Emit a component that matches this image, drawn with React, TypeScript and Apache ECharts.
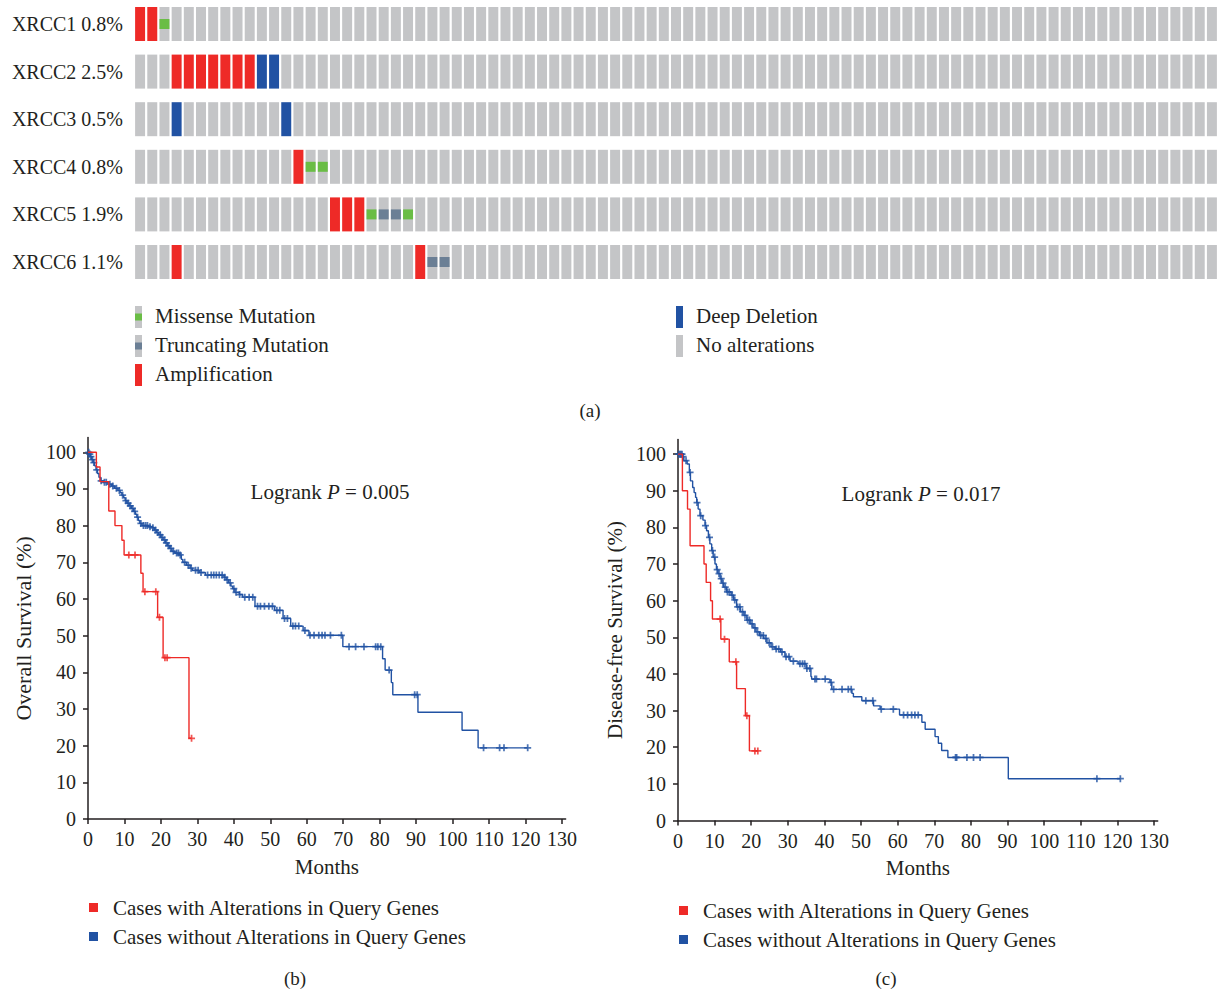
import React, { useEffect, useRef } from "react";
import * as echarts from "echarts";

// ---------- Oncoprint data ----------
const genes = ["XRCC1", "XRCC2", "XRCC3", "XRCC4", "XRCC5", "XRCC6"];
const genePct = ["0.8%", "2.5%", "0.5%", "0.8%", "1.9%", "1.1%"];
const sampleCount = 89;
const ampCols = [[0, 1], [3, 4, 5, 6, 7, 8, 9], [], [13], [16, 17, 18], [3, 23]];
const delCols = [[], [10, 11], [3, 12], [], [], []];
const missenseCols = [[2], [], [], [14, 15], [19, 22], []];
const truncCols = [[], [], [], [], [20, 21], [24, 25]];

// ---------- Kaplan-Meier data (month, survival % after event) ----------
const osAlt = [
  [0, 100], [2.3, 96], [3.3, 92], [5.7, 84], [7.4, 80], [9.3, 76], [9.9, 72],
  [14.5, 67], [15.1, 62], [19.1, 55], [20.6, 44], [27.7, 22], [28.4, 22],
];
const osAltCensor = [11.2, 12.9, 15.6, 18.6, 19.6, 21.1, 21.7, 28.4];
const osNoAlt = [
  [0, 100], [0.3, 99.5], [0.6, 98.8], [1, 98], [1.4, 97.2], [1.8, 96.3], [2.2, 95.2],
  [2.6, 94.2], [3, 93.2], [3.4, 92.2], [4.2, 91.8], [5.5, 91.3], [6.5, 90.8], [7.3, 90.2],
  [8.2, 89.6], [8.8, 89], [9.3, 88.3], [9.8, 87.6], [10.2, 86.8], [10.7, 86.1], [11.3, 85.4],
  [11.9, 84.7], [12.5, 83.9], [13, 83.1], [13.4, 82.3], [13.8, 81.4], [14.2, 80.6], [14.8, 80],
  [16.5, 79.7], [17.6, 79.4], [18.2, 78.8], [18.8, 78.1], [19.4, 77.5], [20, 76.8], [20.6, 76.1],
  [21.2, 75.3], [21.8, 74.5], [22.4, 73.8], [23, 73], [23.8, 72.5], [25, 72], [25.6, 70.8],
  [26, 70], [27, 69.2], [28, 68.4], [28.6, 67.8], [30.5, 67.2], [32.2, 66.5], [37.3, 65.9],
  [37.9, 65.2], [38.6, 64.4], [39.2, 63.5], [39.7, 62.8], [40.3, 61.8], [41.5, 61.2],
  [42.4, 60.5], [45.8, 58], [51.2, 56.9], [53.5, 54.7], [55.6, 52.6], [59, 51.4], [60.6, 50.1],
  [69.9, 47], [80.8, 43.7], [81.5, 40.6], [83.2, 37.2], [83.6, 33.9], [90.5, 29.1],
  [102.6, 24.2], [107, 19.4], [120.6, 19.4],
];
const osNoAltCensor = [
  0.2, 0.5, 0.8, 1.2, 1.6, 2.4, 3.6, 4.5, 5, 6, 6.8, 7.8, 8.6, 9.5, 10.4, 11, 11.6, 12.2,
  12.8, 13.6, 14.5, 15.2, 15.8, 16.3, 17, 17.8, 18.5, 19.1, 19.8, 20.3, 21, 21.5, 22.1, 22.7,
  23.4, 24.3, 24.8, 25.3, 26.5, 27.5, 28.3, 29.5, 30.2, 31, 32.8, 33.8, 34.5, 35.2, 36, 36.8,
  37.5, 38.2, 39, 40, 40.6, 41.6, 43, 44.2, 45.2, 46.5, 47.3, 48.4, 49.6, 50.6, 51.8, 52.6,
  53.9, 54.7, 56.2, 56.9, 57.8, 59.5, 60.9, 62, 63.3, 64.2, 65, 66.5, 69.5, 71.6, 73.4, 75.7,
  78.9, 79.5, 80.3, 82.6, 89.6, 90.3, 108.5, 112.9, 114.1, 120.6,
];

const dfsAlt = [
  [0, 100], [1.2, 90], [2.6, 85], [3.3, 75], [7.1, 70], [7.7, 65], [8.9, 60], [9.4, 55],
  [11.7, 49.5], [14, 43.3], [16, 36], [18.4, 28.6], [19.5, 19], [21.8, 19],
];
const dfsAltCensor = [11.5, 12.7, 15.8, 18.8, 21, 21.8];
const dfsNoAlt = [
  [0, 100], [1.3, 99.3], [1.6, 98.2], [2.5, 97.3], [3.1, 95], [3.4, 92.7], [4, 90.9],
  [4.4, 89.5], [4.8, 88.2], [5.1, 86.8], [5.5, 85], [6, 83.2], [6.8, 82], [7.4, 80.5],
  [7.8, 79.1], [8.3, 77.3], [8.7, 75.5], [9.2, 73.7], [9.6, 71.9], [10.1, 70], [10.5, 68.5],
  [10.9, 67.4], [11.5, 66], [12, 64.8], [12.5, 63.7], [13.3, 62.4], [14.5, 61.5], [15.2, 60.2],
  [16, 58.3], [17, 57], [18, 56], [18.8, 54.7], [19.7, 53.7], [20.5, 52.6], [21.3, 51.5],
  [22.2, 50.5], [23.4, 49.7], [24.3, 48.5], [25.4, 47.4], [26.5, 46.8], [28, 46], [29.2, 44.7],
  [30.6, 43.5], [32.8, 42.8], [35, 41.5], [36.3, 39.3], [36.5, 38.6], [41.5, 37.7], [42, 35.8],
  [47.5, 34.7], [47.9, 33.8], [50.2, 32.7], [53.4, 31.3], [55.2, 30.4], [60.5, 28.8],
  [66.6, 26.8], [67.5, 24.9], [70.2, 22.9], [71.1, 21.1], [72, 19.1], [73.7, 17.2],
  [90.2, 11.4], [120.8, 11.4],
];
const dfsNoAltCensor = [
  0.2, 0.5, 0.8, 1.1, 1.4, 2.2, 3.3, 5.2, 6.2, 7.5, 8.6, 9.4, 10, 10.7, 11.2, 11.8, 12.3,
  12.9, 13.5, 14, 14.8, 15.5, 16.3, 16.9, 17.6, 18.3, 19, 19.5, 20.2, 21, 21.7, 22.6, 23.3, 24,
  24.9, 25.8, 26.8, 27.5, 28.4, 29.5, 30.3, 31.5, 33.3, 34, 34.6, 35.2, 36, 37.4, 37.8, 40.2,
  41.8, 42.5, 44.8, 46.5, 47.3, 51.3, 53.2, 55.5, 58.8, 61.6, 62.7, 63.8, 64.7, 65.6, 75.8,
  76.1, 78.9, 80.7, 82.5, 114.4, 120.8,
];

const monthTicks = [0, 10, 20, 30, 40, 50, 60, 70, 80, 90, 100, 110, 120, 130];
const survTicks = [0, 10, 20, 30, 40, 50, 60, 70, 80, 90, 100];
const altName = "Cases with Alterations in Query Genes";
const noAltName = "Cases without Alterations in Query Genes";

// ---------- styles ----------
const FONT = "'Liberation Serif', 'Times New Roman', serif";
const TXT = "#231f20";
const RED = "#ee2a27";
const BLUE = "#2152a3";
const GREEN = "#6abd45";
const SLATE = "#6b7f95";
const GRAY = "#c4c5c7";
const PLUS = "path://M3,0H5V3H8V5H5V8H3V5H0V3H3Z";

function valueAt(curve: number[][], t: number) {
  let v = curve[0][1];
  for (const [x, y] of curve) {
    if (x <= t) v = y;
    else break;
  }
  return v;
}

function buildCells() {
  const cells: number[][] = [];
  genes.forEach((_, r) => {
    for (let c = 0; c < sampleCount; c++) {
      let code = 0;
      if (missenseCols[r].includes(c)) code = 1;
      if (truncCols[r].includes(c)) code = 2;
      if (ampCols[r].includes(c)) code = 3;
      if (delCols[r].includes(c)) code = 4;
      cells.push([c, r, code]);
    }
  });
  return cells;
}

function kmAxes(grid: number, yName: string, yGap: number, yNameSize: number) {
  const lineStyle = { color: TXT, width: 1.5 };
  const label = { color: TXT, fontSize: 20, fontFamily: FONT };
  return {
    x: {
      gridIndex: grid,
      type: "value",
      min: 0,
      max: 131,
      axisLine: { show: true, onZero: false, lineStyle },
      axisTick: { show: true, length: 5, customValues: monthTicks, lineStyle },
      axisLabel: { ...label, margin: 10, customValues: monthTicks },
      splitLine: { show: false },
      name: "Months",
      nameLocation: "middle",
      nameGap: 37,
      nameTextStyle: { color: TXT, fontSize: 21, fontFamily: FONT },
    },
    y: {
      gridIndex: grid,
      type: "value",
      min: 0,
      max: 104,
      axisLine: { show: true, onZero: false, lineStyle },
      axisTick: { show: true, length: 5, customValues: survTicks, lineStyle },
      axisLabel: { ...label, margin: 12, customValues: survTicks },
      splitLine: { show: false },
      name: yName,
      nameLocation: "middle",
      nameRotate: 90,
      nameGap: yGap,
      nameTextStyle: { color: TXT, fontSize: yNameSize, fontFamily: FONT },
    },
  };
}

function kmSeries(axis: number, alt: number[][], altC: number[], noAlt: number[][], noAltC: number[]) {
  const common = { xAxisIndex: axis, yAxisIndex: axis };
  return [
    {
      ...common,
      type: "line",
      name: noAltName,
      data: noAlt,
      step: "end",
      showSymbol: false,
      lineStyle: { color: BLUE, width: 1.4 },
      itemStyle: { color: BLUE },
    },
    {
      ...common,
      type: "scatter",
      name: noAltName + " censored",
      data: noAltC.map((t) => [t, valueAt(noAlt, t)]),
      symbol: PLUS,
      symbolSize: 7,
      itemStyle: { color: BLUE },
    },
    {
      ...common,
      type: "line",
      name: altName,
      data: alt,
      step: "end",
      showSymbol: false,
      lineStyle: { color: RED, width: 1.4 },
      itemStyle: { color: RED },
    },
    {
      ...common,
      type: "scatter",
      name: altName + " censored",
      data: altC.map((t) => [t, valueAt(alt, t)]),
      symbol: PLUS,
      symbolSize: 7,
      itemStyle: { color: RED },
    },
  ];
}

function legendText(x: number, y: number, text: string) {
  return {
    type: "text",
    x,
    y,
    style: { text, fill: TXT, font: `21px ${FONT}`, verticalAlign: "middle", align: "left" },
  };
}

function panelLabel(x: number, y: number, text: string) {
  return {
    type: "text",
    x,
    y,
    style: { text, fill: TXT, font: `19px ${FONT}`, align: "center", verticalAlign: "middle" },
  };
}

function logrank(x: number, y: number, p: string) {
  return {
    type: "text",
    x,
    y,
    style: {
      text: `{n|Logrank }{i|P}{n| = ${p}}`,
      align: "center",
      verticalAlign: "middle",
      rich: {
        n: { fill: TXT, fontSize: 21, fontFamily: FONT },
        i: { fill: TXT, fontSize: 21, fontFamily: FONT, fontStyle: "italic" },
      },
    },
  };
}

function App() {
  const ref = useRef<HTMLDivElement>(null);

  useEffect(() => {
    if (!ref.current) return;
    const chart = echarts.init(ref.current, null, { renderer: "svg" });
    const b = kmAxes(1, "Overall Survival (%)", 54, 22);
    const c = kmAxes(2, "Disease-free Survival (%)", 53, 21);
    const legendCommon = {
      orient: "vertical",
      icon: "rect",
      itemWidth: 9,
      itemHeight: 9,
      itemGap: 8,
      textStyle: { color: TXT, fontSize: 21, fontFamily: FONT, lineHeight: 21, padding: [0, 0, 0, 10] },
      data: [altName, noAltName],
      selectedMode: false,
    };
    const option: any = {
      animation: false,
      backgroundColor: "#ffffff",
      grid: [
        { left: 134, top: 0.2, width: 1085, height: 285.6 },
        { left: 88, top: 437.6, width: 477.6, height: 381.4 },
        { left: 678, top: 439.5, width: 479.7, height: 381 },
      ],
      xAxis: [
        {
          gridIndex: 0,
          type: "category",
          data: Array.from({ length: sampleCount }, (_, i) => `S${i + 1}`),
          show: false,
        },
        b.x,
        c.x,
      ],
      yAxis: [
        {
          gridIndex: 0,
          type: "category",
          inverse: true,
          data: genes.map((g, i) => `${g} ${genePct[i]}`),
          axisLine: { show: false },
          axisTick: { show: false },
          axisLabel: { color: TXT, fontSize: 20, fontFamily: FONT, margin: 11 },
        },
        b.y,
        c.y,
      ],
      legend: [
        { ...legendCommon, left: 84, top: 892 },
        { ...legendCommon, left: 674, top: 895 },
      ],
      graphic: [
        // oncoprint legend
        { type: "rect", shape: { x: 135, y: 306, width: 7, height: 22 }, style: { fill: GRAY } },
        { type: "rect", shape: { x: 135, y: 313.5, width: 7, height: 7 }, style: { fill: GREEN } },
        legendText(155, 316, "Missense Mutation"),
        { type: "rect", shape: { x: 135, y: 335, width: 7, height: 22 }, style: { fill: GRAY } },
        { type: "rect", shape: { x: 135, y: 342.5, width: 7, height: 7 }, style: { fill: SLATE } },
        legendText(155, 345, "Truncating Mutation"),
        { type: "rect", shape: { x: 135, y: 364, width: 7, height: 22 }, style: { fill: RED } },
        legendText(155, 374, "Amplification"),
        { type: "rect", shape: { x: 676, y: 306, width: 7, height: 22 }, style: { fill: BLUE } },
        legendText(696, 316, "Deep Deletion"),
        { type: "rect", shape: { x: 676, y: 335, width: 7, height: 22 }, style: { fill: GRAY } },
        legendText(696, 345, "No alterations"),
        // panel labels
        panelLabel(590, 410, "(a)"),
        panelLabel(295, 978, "(b)"),
        panelLabel(886, 978, "(c)"),
        // logrank
        logrank(330, 492, "0.005"),
        logrank(921, 494, "0.017"),
      ],
      series: [
        {
          type: "custom",
          name: "oncoprint",
          xAxisIndex: 0,
          yAxisIndex: 0,
          data: buildCells(),
          renderItem: (params: any, api: any) => {
            const col = api.value(0);
            const row = api.value(1);
            const code = api.value(2);
            const p = api.coord([col, row]);
            const band = api.size([1, 1]);
            const w = band[0] - 2.2;
            const h = 34;
            const x = p[0] - w / 2;
            const y = p[1] - h / 2;
            const children: any[] = [];
            if (code === 3 || code === 4) {
              children.push({ type: "rect", shape: { x, y, width: w, height: h }, style: { fill: code === 3 ? RED : BLUE } });
            } else {
              children.push({ type: "rect", shape: { x, y, width: w, height: h }, style: { fill: GRAY } });
              if (code === 1 || code === 2) {
                children.push({
                  type: "rect",
                  shape: { x, y: p[1] - 5, width: w, height: 10 },
                  style: { fill: code === 1 ? GREEN : SLATE },
                });
              }
            }
            return { type: "group", children };
          },
        },
        ...kmSeries(1, osAlt, osAltCensor, osNoAlt, osNoAltCensor),
        ...kmSeries(2, dfsAlt, dfsAltCensor, dfsNoAlt, dfsNoAltCensor),
      ],
    };
    chart.setOption(option);
    return () => chart.dispose();
  }, []);

  return (
    <div
      ref={ref}
      style={{ position: "absolute", left: 0, top: 0, width: 1218, height: 993, background: "#fff" }}
    />
  );
}

export default App;
